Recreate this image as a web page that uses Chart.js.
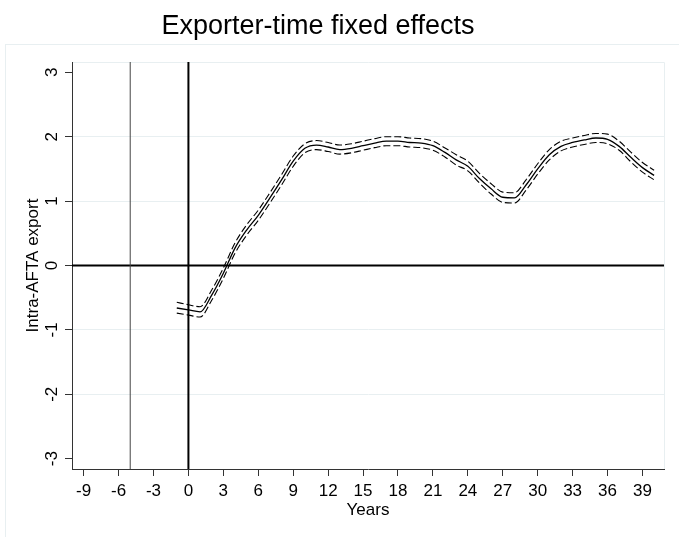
<!DOCTYPE html>
<html>
<head>
<meta charset="utf-8">
<title>Exporter-time fixed effects</title>
<script src="https://cdn.jsdelivr.net/npm/chart.js@4.4.0/dist/chart.umd.min.js"></script>
<style>
  html, body { margin: 0; padding: 0; background: #fff; }
  canvas { display: block; }
</style>
</head>
<body>
<canvas id="content" width="679" height="537"></canvas>
<script>
// years relative to the start of the agreement
var years = [-1, 0, 1, 2, 3, 4, 5, 6, 7, 8, 9, 10, 11, 12, 13, 14, 15, 16, 17, 18, 19, 20,
             21, 22, 23, 24, 25, 26, 27, 28, 29, 30, 31, 32, 33, 34, 35, 36, 37, 38, 39, 40];

// point estimates
var effect = [-0.66, -0.69, -0.72, -0.46, -0.12, 0.27, 0.55, 0.78, 1.05, 1.33, 1.62, 1.82,
              1.87, 1.84, 1.80, 1.82, 1.86, 1.90, 1.93, 1.93, 1.91, 1.90, 1.86, 1.76,
              1.64, 1.54, 1.35, 1.19, 1.06, 1.05, 1.25, 1.50, 1.72, 1.85, 1.91, 1.95,
              1.98, 1.96, 1.85, 1.68, 1.52, 1.40];

// confidence band
var upper = [-0.57, -0.61, -0.64, -0.38, -0.04, 0.35, 0.63, 0.86, 1.13, 1.41, 1.70, 1.89,
             1.94, 1.91, 1.87, 1.89, 1.93, 1.97, 2.00, 2.00, 1.98, 1.97, 1.93, 1.83,
             1.72, 1.62, 1.43, 1.27, 1.14, 1.13, 1.33, 1.58, 1.80, 1.93, 1.98, 2.02,
             2.05, 2.04, 1.93, 1.76, 1.60, 1.48];
var lower = [-0.74, -0.77, -0.80, -0.54, -0.20, 0.19, 0.47, 0.70, 0.97, 1.25, 1.54, 1.75,
             1.80, 1.77, 1.73, 1.75, 1.79, 1.83, 1.86, 1.86, 1.84, 1.83, 1.79, 1.69,
             1.56, 1.47, 1.28, 1.11, 0.98, 0.97, 1.17, 1.42, 1.64, 1.78, 1.84, 1.88,
             1.91, 1.89, 1.79, 1.61, 1.45, 1.33];

var xTicks = [-9, -6, -3, 0, 3, 6, 9, 12, 15, 18, 21, 24, 27, 30, 33, 36, 39];
var yTicks = [-3, -2, -1, 0, 1, 2, 3];

var xMin = -10, xMax = 40.85;
var yMin = -3.16, yMax = 3.16;
var eventYear = 0, markerYear = -5;

var FONT = "'Liberation Sans', Arial, sans-serif";
var TITLE = 'Exporter-time fixed effects';

function points(ys) {
    return years.map(function (x, i) { return { x: x, y: ys[i] }; });
}

function series(label, ys, width, dash) {
    return {
        label: label,
        data: points(ys),
        borderColor: '#000',
        borderWidth: width,
        borderDash: dash,
        pointRadius: 0,
        fill: false,
        cubicInterpolationMode: 'monotone'
    };
}

function refLine(pts, color, width) {
    return {
        label: '',
        data: pts,
        borderColor: color,
        borderWidth: width,
        pointRadius: 0,
        fill: false
    };
}

// light outlines around the graph and plot regions, plus the graph title
var frames = {
    id: 'frames',
    beforeDraw: function (chart) {
        var ctx = chart.ctx;
        var a = chart.chartArea;
        ctx.save();
        ctx.strokeStyle = '#e8eff1';
        ctx.lineWidth = 1;
        ctx.strokeRect(5.5, 44.5, chart.width + 20, chart.height + 20);
        ctx.beginPath();
        ctx.moveTo(a.left, a.top + 0.5);
        ctx.lineTo(a.right + 0.5, a.top + 0.5);
        ctx.lineTo(a.right + 0.5, a.bottom);
        ctx.stroke();

        ctx.fillStyle = '#000';
        ctx.font = '27px ' + FONT;
        ctx.textAlign = 'center';
        ctx.textBaseline = 'middle';
        ctx.fillText(TITLE, 318, 27);
        ctx.restore();
    }
};

function chart() {
    var ctx = document.getElementById('content').getContext('2d');
    new Chart(ctx, {
        type: 'line',
        data: {
            datasets: [
                refLine([{ x: markerYear, y: yMin }, { x: markerYear, y: yMax }], '#444', 1),
                refLine([{ x: eventYear, y: yMin }, { x: eventYear, y: yMax }], '#000', 2),
                refLine([{ x: xMin, y: 0 }, { x: xMax, y: 0 }], '#000', 2),
                series('Upper bound', upper, 1.1, [7, 3]),
                series('Lower bound', lower, 1.1, [7, 3]),
                series('Effect', effect, 1.3, [])
            ]
        },
        options: {
            responsive: false,
            animation: false,
            layout: { padding: { left: 18, right: 15, top: 62, bottom: 16 } },
            plugins: {
                legend: { display: false },
                tooltip: { enabled: false },
                title: { display: false }
            },
            scales: {
                x: {
                    type: 'linear',
                    min: xMin,
                    max: xMax,
                    afterBuildTicks: function (scale) {
                        scale.ticks = xTicks.map(function (v) { return { value: v }; });
                    },
                    afterFit: function (scale) { scale.height = 52; },
                    border: { display: true, color: '#333', width: 1 },
                    grid: { drawOnChartArea: false, tickLength: 7, tickColor: '#333', tickWidth: 1 },
                    ticks: {
                        color: '#000',
                        padding: 5,
                        maxRotation: 0,
                        autoSkip: false,
                        font: { family: FONT, size: 17 }
                    },
                    title: {
                        display: true,
                        text: 'Years',
                        color: '#000',
                        padding: 0,
                        font: { family: FONT, size: 17 }
                    }
                },
                y: {
                    min: yMin,
                    max: yMax,
                    afterBuildTicks: function (scale) {
                        scale.ticks = yTicks.map(function (v) { return { value: v }; });
                    },
                    afterFit: function (scale) { scale.width = 54; },
                    border: { display: true, color: '#333', width: 1 },
                    grid: {
                        color: function (c) {
                            var v = c.tick ? c.tick.value : null;
                            return (v === 3 || v === -3 || v === 0) ? 'rgba(0,0,0,0)' : '#e8eff1';
                        },
                        lineWidth: 1,
                        tickLength: 7,
                        tickColor: '#333',
                        tickWidth: 1
                    },
                    ticks: {
                        color: '#000',
                        padding: 5,
                        minRotation: 90,
                        maxRotation: 90,
                        crossAlign: 'center',
                        font: { family: FONT, size: 17 }
                    },
                    title: {
                        display: true,
                        text: 'Intra-AFTA export',
                        color: '#000',
                        padding: { top: 5, bottom: 0 },
                        font: { family: FONT, size: 17 }
                    }
                }
            }
        },
        plugins: [frames]
    });
}

chart();
</script>
</body>
</html>
